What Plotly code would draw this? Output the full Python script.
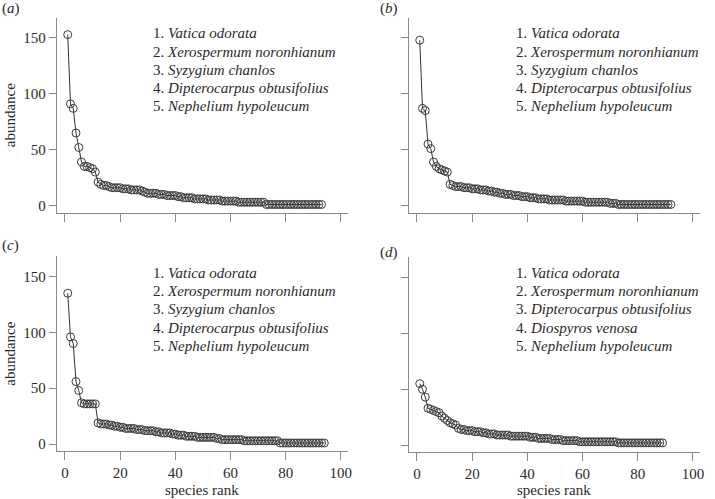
import plotly.graph_objects as go

# ---------------- data ----------------
abund_a = [153, 91, 87, 65, 52, 39, 35, 35, 34, 33, 30,
           21, 19, 18, 18, 17, 16, 16, 16, 16,
           15, 15, 15, 14, 14, 14, 14, 13, 12, 11,
           11, 11, 11, 10, 10, 10, 9, 9, 9, 9,
           8, 8, 7, 7, 7, 7, 6, 6, 6, 6,
           6, 5, 5, 5, 5, 5, 4, 4, 4, 4,
           4, 4, 3, 3, 3, 3, 3, 3, 3, 3, 3, 3,
           1, 1, 1, 1, 1, 1, 1, 1, 1, 1, 1, 1, 1, 1, 1, 1, 1, 1, 1, 1, 1]
abund_b = [148, 87, 85, 55, 51, 39, 35, 33, 32, 31, 30,
           19, 18, 17, 17, 17, 16, 16, 16, 15,
           15, 15, 14, 14, 14, 13, 13, 12, 12, 11,
           11, 10, 10, 10, 9, 9, 9, 8, 8, 8,
           7, 7, 7, 6, 6, 6, 6, 5, 5, 5,
           5, 5, 5, 4, 4, 4, 4, 4, 4, 4,
           3, 3, 3, 3, 3, 3, 3, 3, 3, 2, 2, 2,
           1, 1, 1, 1, 1, 1, 1, 1, 1, 1, 1, 1, 1, 1, 1, 1, 1, 1, 1, 1]
abund_c = [135, 96, 90, 56, 48, 37, 36, 36, 36, 36, 36,
           19, 18, 18, 18, 17, 17, 16, 16, 15,
           15, 14, 14, 14, 14, 13, 13, 13, 12, 12,
           12, 12, 11, 11, 10, 10, 10, 10, 9, 9,
           8, 8, 8, 7, 7, 7, 7, 6, 6, 6,
           6, 6, 6, 6, 5, 5, 4, 4, 4, 4,
           4, 4, 4, 4, 3, 3, 3, 3, 3, 3,
           3, 3, 3, 3, 3, 3, 3,
           1, 1, 1, 1, 1, 1, 1, 1, 1, 1, 1, 1, 1, 1, 1, 1, 1]
abund_d = [55, 50, 43, 33, 32, 31, 30, 29, 26, 24,
           22, 20, 19, 18, 15, 14, 14, 13, 13, 13,
           12, 12, 12, 11, 11, 10, 10, 10, 9, 9,
           9, 9, 9, 8, 8, 8, 8, 8, 8, 8,
           7, 7, 7, 6, 6, 6, 6, 6, 5, 5,
           5, 5, 4, 4, 4, 4, 4, 4, 3, 3,
           3, 3, 3, 3, 3, 3, 3, 3, 3, 3, 3, 3,
           2, 2, 2, 2, 2, 2, 2, 2, 2, 2, 2, 2, 2, 2, 2, 2, 2]

species_abc = ["Vatica odorata", "Xerospermum noronhianum", "Syzygium chanlos",
               "Dipterocarpus obtusifolius", "Nephelium hypoleucum"]
species_d = ["Vatica odorata", "Xerospermum noronhianum", "Dipterocarpus obtusifolius",
             "Diospyros venosa", "Nephelium hypoleucum"]
panel_labels = ["a", "b", "c", "d"]
x_ticks = [0, 20, 40, 60, 80, 100]
y_ticks = [0, 50, 100, 150]
x_title = "species rank"
y_title = "abundance"

# ---------------- layout helpers ----------------
W, H = 715, 499
def px(x):
    return x / W
def py(y):
    return 1 - y / H

FONT = "Liberation Serif, Times New Roman, serif"
TXT = "#2a2a2a"
AX = "#8a8a8a"

panels = [
    dict(vals=abund_a, sp=species_abc, xd=(57, 350), yd=(18, 213), xlab=False, ylab=True,
         leg=(152, 33.5), tag=(0, 9)),
    dict(vals=abund_b, sp=species_abc, xd=(411, 704), yd=(18, 213), xlab=False, ylab=False,
         leg=(517, 33.5), tag=(380, 9)),
    dict(vals=abund_c, sp=species_abc, xd=(57, 350), yd=(257, 452), xlab=True, ylab=True,
         leg=(152, 273.5), tag=(0, 246)),
    dict(vals=abund_d, sp=species_d, xd=(411, 704), yd=(258, 453), xlab=True, ylab=False,
         leg=(517, 273.5), tag=(380, 253)),
]

fig = go.Figure()
layout = dict(width=W, height=H, margin=dict(l=0, r=0, t=0, b=0),
              paper_bgcolor="white", plot_bgcolor="white", showlegend=False,
              font=dict(family=FONT, size=15, color=TXT))
annotations = []

for i, p in enumerate(panels):
    n = i + 1
    xa = "x" if n == 1 else f"x{n}"
    ya = "y" if n == 1 else f"y{n}"
    ranks = list(range(1, len(p["vals"]) + 1))
    fig.add_trace(go.Scatter(
        x=ranks, y=p["vals"], xaxis=xa, yaxis=ya, mode="lines+markers",
        line=dict(color="#1a1a1a", width=0.9),
        marker=dict(symbol="circle-open", size=8, color="#3c3c3c", line=dict(width=1)),
        hoverinfo="x+y"))
    xkey = "xaxis" if n == 1 else f"xaxis{n}"
    ykey = "yaxis" if n == 1 else f"yaxis{n}"
    layout[xkey] = dict(
        domain=[px(p["xd"][0]), px(p["xd"][1])], anchor=ya, range=[-3, 102.6],
        showline=True, linecolor=AX, linewidth=1, showgrid=False, zeroline=False,
        ticks="outside", ticklen=8, tickcolor=AX, tickwidth=1,
        tickvals=x_ticks, showticklabels=p["xlab"],
        tickfont=dict(family=FONT, size=15, color=TXT))
    layout[ykey] = dict(
        domain=[py(p["yd"][1]), py(p["yd"][0])], anchor=xa, range=[-6.25, 167.9],
        showline=True, linecolor=AX, linewidth=1, showgrid=False, zeroline=False,
        ticks="outside", ticklen=7, tickcolor=AX, tickwidth=1,
        tickvals=y_ticks, showticklabels=p["ylab"],
        tickfont=dict(family=FONT, size=15, color=TXT))
    # legend text
    lx, ly = p["leg"]
    for k, name in enumerate(p["sp"]):
        annotations.append(dict(
            xref="paper", yref="paper", x=px(lx), y=py(ly + k * 18.3),
            xanchor="left", yanchor="middle", showarrow=False,
            text=f"{k + 1}. <i>{name}</i>",
            font=dict(family=FONT, size=15, color=TXT)))
    # panel tag
    tx, ty = p["tag"]
    annotations.append(dict(
        xref="paper", yref="paper", x=px(tx), y=py(ty),
        xanchor="left", yanchor="middle", showarrow=False,
        text=f"(<i>{panel_labels[i]}</i>)",
        font=dict(family=FONT, size=15, color=TXT)))
    # axis titles
    if p["ylab"]:
        annotations.append(dict(
            xref="paper", yref="paper", x=px(10), y=py((p["yd"][0] + p["yd"][1]) / 2),
            xanchor="center", yanchor="middle", showarrow=False, textangle=-90,
            text=y_title, font=dict(family=FONT, size=15, color=TXT)))
    if p["xlab"]:
        annotations.append(dict(
            xref="paper", yref="paper", x=px((p["xd"][0] + p["xd"][1]) / 2), y=py(490.5),
            xanchor="center", yanchor="middle", showarrow=False,
            text=x_title, font=dict(family=FONT, size=15, color=TXT)))

layout["annotations"] = annotations
fig.update_layout(**layout)
fig.write_html("out.html", config={"displayModeBar": False},
               post_script="document.body.style.margin='0';document.body.style.overflow='hidden';")
